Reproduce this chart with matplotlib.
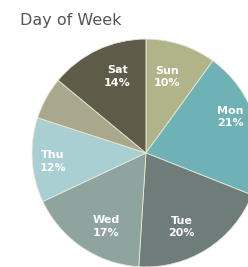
import numpy as np
import matplotlib
matplotlib.use("Agg")
import matplotlib.pyplot as plt

# Share of records by day of week (clockwise from 12 o'clock)
days = ["Sun", "Mon", "Tue", "Wed", "Thu", "Fri", "Sat"]
shares = [10, 21, 20, 17, 12, 6, 14]
show_label = [True, True, True, True, True, False, True]

colors = ["#b1b489", "#6fb2b6", "#6e7c7a", "#8fa39f", "#a9cfd3", "#aaa88c", "#5e5c49"]
# small pixel nudges for the slice labels
nudges = [(-5, -5), (2, 12), (-10, -2), (8, -3), (-8, -3), (0, 0), (8, -1)]

fig = plt.figure(figsize=(2.48, 2.67), dpi=100)
fig.patch.set_facecolor("white")

ax = fig.add_axes([0.129, 0.0, 0.919, 0.854])
wedges, _ = ax.pie(shares, colors=colors, startangle=90, counterclock=False,
                   radius=1.0, wedgeprops=dict(edgecolor="#e8ead8", linewidth=0.6))
ax.set_xlim(-1, 1)
ax.set_ylim(-1, 1)
ax.set_aspect("equal")
ax.axis("off")

for w, day, pct, show, nd in zip(wedges, days, shares, show_label, nudges):
    if not show:
        continue
    mid = np.deg2rad((w.theta1 + w.theta2) / 2)
    x, y = 0.75 * np.cos(mid), 0.75 * np.sin(mid)
    ax.annotate(f"{day}\n{pct}%", (x, y), xytext=nd, textcoords="offset pixels",
                ha="center", va="center", color="white", fontsize=8,
                fontweight="bold", linespacing=1.3, annotation_clip=False)

fig.text(20 / 248, 1 - 20 / 267, "Day of Week", ha="left", va="center",
         fontsize=11.5, color="#555555")

fig.savefig("out.png", dpi=100, facecolor="white")
